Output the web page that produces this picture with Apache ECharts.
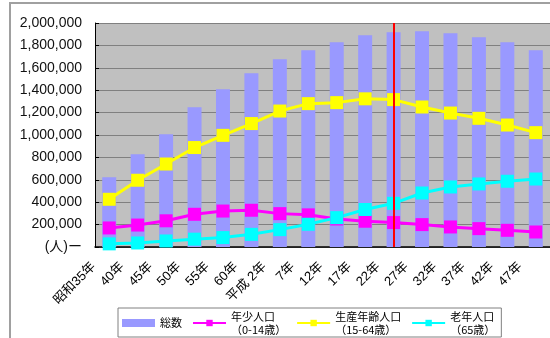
<!DOCTYPE html>
<html>
<head>
<meta charset="utf-8">
<script src="https://cdn.jsdelivr.net/npm/echarts@6/dist/echarts.min.js"></script>
<style>
  html, body { margin: 0; padding: 0; background: #fff; }
  #chart { width: 550px; height: 338px; }
</style>
</head>
<body>
<div id="chart"></div>
<script>
// 年次（昭和35年〜平成47年）
const categories = ['昭和35年', '40年', '45年', '50年', '55年', '60年', '平成 2年', '7年',
  '12年', '17年', '22年', '27年', '32年', '37年', '42年', '47年']

// 人口（人）
const total = [622000, 828000, 1006000, 1247000, 1408000, 1551000, 1676000, 1756000,
  1828000, 1890000, 1917000, 1926000, 1908000, 1872000, 1828000, 1756000]
const young = [170000, 196000, 234000, 292000, 321000, 328000, 298000, 287000,
  250000, 230000, 218000, 200000, 179000, 164000, 149000, 134000]
const working = [426000, 596000, 741000, 888000, 997000, 1102000, 1214000, 1280000,
  1289000, 1323000, 1316000, 1250000, 1196000, 1149000, 1089000, 1021000]
const elderly = [28000, 36000, 54000, 70000, 84000, 113000, 155000, 203000,
  262000, 335000, 390000, 482000, 536000, 563000, 587000, 607000]

const seriesNames = ['総数', '年少人口', '生産年齢人口', '老年人口']
const legendNotes = ['', '（0-14歳）', '（15-64歳）', '（65歳）']
const baseYear = '22年' // 基準年（赤線）

const FONT = "'Liberation Sans', 'Noto Sans CJK JP', sans-serif"

const chart = echarts.init(document.getElementById('chart'))

function lineSeries(name, data, color) {
  return {
    name: name,
    type: 'line',
    data: data,
    symbol: 'rect',
    symbolSize: 13,
    lineStyle: { color: color, width: 3 },
    itemStyle: { color: color }
  }
}

chart.setOption({
  animation: false,
  textStyle: { fontFamily: FONT },
  graphic: [{
    type: 'rect',
    z: -10,
    shape: { x: 10, y: 3, width: 600, height: 400 },
    style: { fill: 'none', stroke: '#a0a0a0', lineWidth: 2 }
  }],
  grid: {
    left: 95,
    top: 23,
    width: 459,
    height: 224,
    show: true,
    backgroundColor: '#c0c0c0',
    borderWidth: 0
  },
  legend: {
    left: 118,
    top: 308,
    padding: [2, 6, 1, 4],
    itemGap: 10,
    itemWidth: 33,
    itemHeight: 8,
    borderColor: '#808080',
    borderWidth: 1,
    backgroundColor: '#fff',
    textStyle: { fontSize: 11, color: '#000', lineHeight: 13, fontFamily: "'Noto Sans CJK JP', sans-serif" },
    formatter: function (name) {
      const note = legendNotes[seriesNames.indexOf(name)]
      return note ? name + '\n' + note : name
    },
    data: [{ name: '総数', icon: 'rect' }, '年少人口', '生産年齢人口', '老年人口']
  },
  xAxis: {
    type: 'category',
    data: categories,
    axisLine: { lineStyle: { color: '#000', width: 1.5 } },
    axisTick: { inside: true, length: 4, lineStyle: { color: '#000' } },
    axisLabel: {
      rotate: 45,
      interval: 0,
      margin: 2,
      padding: [0, 22, 0, 0],
      fontSize: 13,
      color: '#000'
    }
  },
  yAxis: {
    type: 'value',
    min: 0,
    max: 2000000,
    interval: 200000,
    axisLine: { show: true, lineStyle: { color: '#000' } },
    axisTick: { show: true, inside: true, length: 4, lineStyle: { color: '#000' } },
    splitLine: { lineStyle: { color: '#808080' } },
    axisLabel: {
      margin: 13,
      fontSize: 14,
      color: '#111',
      formatter: function (v) {
        return v === 0 ? '(人)ー' : v.toLocaleString('en-US')
      }
    }
  },
  series: [
    {
      name: seriesNames[0],
      type: 'bar',
      data: total,
      barWidth: 14,
      itemStyle: { color: '#9999ff' }
    },
    lineSeries(seriesNames[1], young, '#ff00ff'),
    lineSeries(seriesNames[2], working, '#ffff00'),
    lineSeries(seriesNames[3], elderly, '#00ffff'),
    {
      // 基準年の赤線
      name: 'base',
      type: 'line',
      data: [],
      z: 10,
      markLine: {
        silent: true,
        symbol: 'none',
        label: { show: false },
        lineStyle: { color: '#ff0000', width: 2, type: 'solid' },
        data: [{ xAxis: baseYear }]
      }
    }
  ]
})
</script>
</body>
</html>
